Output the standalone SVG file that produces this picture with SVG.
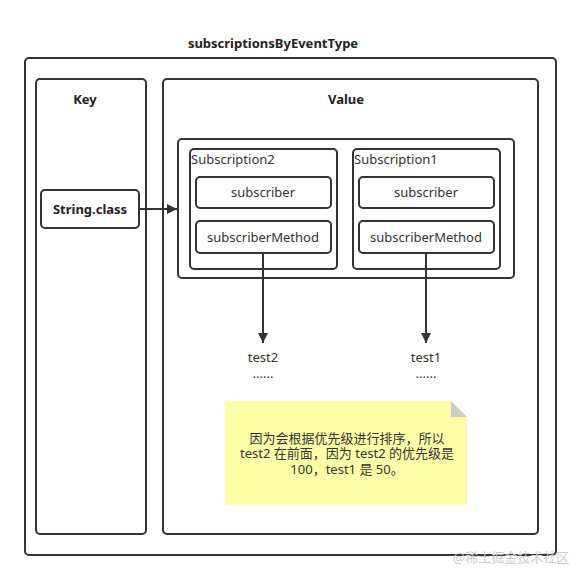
<svg xmlns="http://www.w3.org/2000/svg" width="582" height="580" viewBox="0 0 582 580">
<style>
.b{fill:#fff;stroke:#333;stroke-width:2}
.t{font-family:"Noto Sans","Noto Sans CJK SC",sans-serif;font-size:13px;fill:#333;text-anchor:middle}
.bold{font-weight:bold;fill:#222}
.c{stroke:#333;stroke-width:2;fill:none}
</style>
<defs>
<marker id="ah" viewBox="0 0 10 10" refX="10" refY="5" markerWidth="5" markerHeight="5" orient="auto" markerUnits="strokeWidth">
<path d="M0,0 L10,5 L0,10 z" fill="#333"/>
</marker>
</defs>
<rect width="582" height="580" fill="#fff"/>
<text class="t bold" x="273" y="48">subscriptionsByEventType</text>
<g id="outer"><rect class="b" x="25" y="58" width="531" height="497" rx="4"/></g>
<g id="key"><rect class="b" x="36" y="79" width="110" height="455" rx="4"/><text class="t bold" x="85" y="104">Key</text></g>
<g id="value"><rect class="b" x="163" y="79" width="375" height="455" rx="4"/><text class="t bold" x="346" y="104">Value</text></g>
<g id="container"><rect class="b" x="178" y="139" width="336" height="139" rx="4"/></g>
<g id="sub2"><rect class="b" x="190" y="149" width="147" height="120" rx="4"/><text class="t" x="191" y="164" style="text-anchor:start">Subscription2</text></g>
<g id="sub2-subscriber"><rect class="b" x="196" y="177" width="135" height="31" rx="4"/><text class="t" x="263" y="197">subscriber</text></g>
<g id="sub2-method"><rect class="b" x="196" y="221" width="135" height="32" rx="4"/><text class="t" x="263" y="242">subscriberMethod</text></g>
<g id="sub1"><rect class="b" x="353" y="149" width="147" height="120" rx="4"/><text class="t" x="354" y="164" style="text-anchor:start">Subscription1</text></g>
<g id="sub1-subscriber"><rect class="b" x="359" y="177" width="135" height="31" rx="4"/><text class="t" x="426" y="197">subscriber</text></g>
<g id="sub1-method"><rect class="b" x="359" y="221" width="135" height="32" rx="4"/><text class="t" x="426" y="242">subscriberMethod</text></g>
<g id="string-class"><rect class="b" x="41" y="190" width="98" height="38" rx="4"/><text class="t bold" x="90" y="214">String.class</text></g>
<g id="test2"><text class="t" x="263" y="362">test2</text><text class="t" x="263" y="378">......</text></g>
<g id="test1"><text class="t" x="426" y="362">test1</text><text class="t" x="426" y="378">......</text></g>
<g id="note">
<path d="M225,401 H451 L467,417 V505 H225 Z" fill="#ffff99" opacity="0.85"/>
<path d="M451,401 V417 H467 Z" fill="#ccc"/>
<text class="t" x="347" y="443">因为会根据优先级进行排序，所以</text>
<text class="t" x="347" y="458">test2 在前面，因为 test2 的优先级是</text>
<text class="t" x="347" y="474">100，test1 是 50。</text>
</g>
<g id="connectors">
<line class="c" x1="139" y1="209" x2="177" y2="209" marker-end="url(#ah)"/>
<line class="c" x1="263" y1="253" x2="263" y2="343" marker-end="url(#ah)"/>
<line class="c" x1="426" y1="253" x2="426" y2="343" marker-end="url(#ah)"/>
</g>
<text x="511" y="562" style="font-family:'Noto Sans CJK SC',sans-serif;font-size:13px;fill:#ccc;text-anchor:middle">@稀土掘金技术社区</text>
</svg>
